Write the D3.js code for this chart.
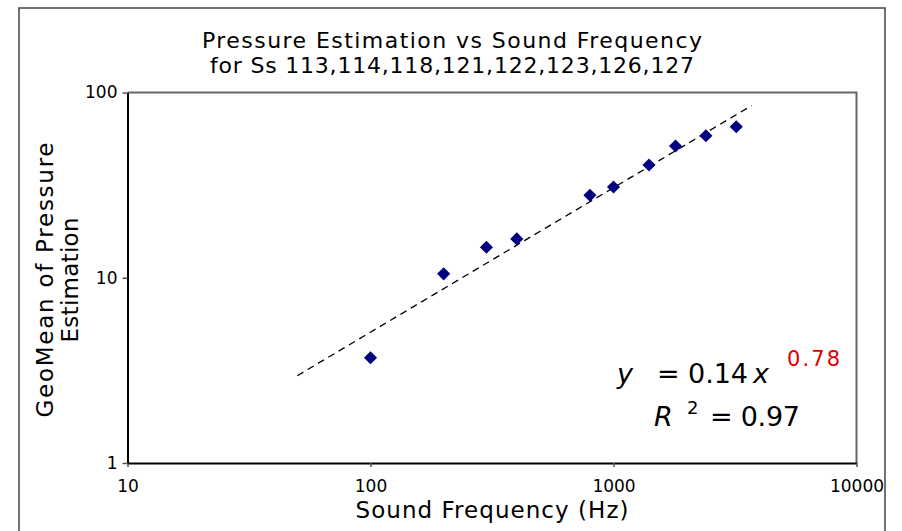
<!DOCTYPE html>
<html>
<head>
<meta charset="utf-8">
<script src="https://cdn.jsdelivr.net/npm/d3@7"></script>
<style>
  body { margin: 0; background: #fff; }
  svg { display: block; }
  text { font-family: "DejaVu Sans", Verdana, sans-serif; fill: #000; }
</style>
</head>
<body>
<svg id="chart" width="902" height="531"></svg>
<script>
// data
var frequencies = [100, 200, 300, 400, 800, 1000, 1400, 1800, 2400, 3200];
var pressures = [3.7, 10.5, 14.6, 16.2, 27.9, 30.9, 40.6, 51.4, 58.4, 65.3];
var xTicks = [10, 100, 1000, 10000];
var yTicks = [1, 10, 100];

// power trendline shown on the chart: y = 0.14 x^0.78
var trendCoef = 0.14;
var trendExp = 0.78;
var trendFrom = 50;
var trendTo = 3700;

var titleLines = ["Pressure Estimation vs Sound Frequency", "for Ss 113,114,118,121,122,123,126,127"];
var yTitleLines = ["GeoMean of Pressure", "Estimation"];
var xTitle = "Sound Frequency (Hz)";

var svg = d3.select("#chart");

// outer chart frame
svg.append("rect")
    .attr("x", 19).attr("y", 8)
    .attr("width", 866).attr("height", 540)
    .attr("fill", "#fff")
    .attr("stroke", "#444")
    .attr("stroke-width", 1.5);

var plot = { left: 127.5, right: 856.5, top: 92.5, bottom: 463 };

var x = d3.scaleLog().domain([10, 10000]).range([plot.left, plot.right]);
var y = d3.scaleLog().domain([1, 100]).range([plot.bottom, plot.top]);

// plot area border (top/right grey)
svg.append("path")
    .attr("d", "M" + plot.left + "," + plot.top + "H" + plot.right + "V" + plot.bottom)
    .attr("fill", "none")
    .attr("stroke", "#666")
    .attr("stroke-width", 2);

// axes
var xAxis = svg.append("g")
    .attr("transform", "translate(0," + plot.bottom + ")")
    .call(d3.axisBottom(x).tickValues(xTicks).tickFormat(d3.format("d"))
        .tickSize(4).tickPadding(13).tickSizeOuter(0));
var yAxis = svg.append("g")
    .attr("transform", "translate(" + plot.left + ",0)")
    .call(d3.axisLeft(y).tickValues(yTicks).tickFormat(d3.format("d"))
        .tickSize(5).tickPadding(5).tickSizeOuter(0));

[xAxis, yAxis].forEach(function (g) {
    g.select(".domain").attr("stroke", "#000").attr("stroke-width", 2);
    g.selectAll(".tick line").attr("stroke", "#555").attr("stroke-width", 1.5);
    g.selectAll(".tick text")
        .attr("fill", "#000")
        .style("font-family", "'DejaVu Sans', Verdana, sans-serif")
        .style("font-size", "17px");
});

// trendline
var trendPts = d3.range(0, 21).map(function (i) {
    var lx = Math.log10(trendFrom) + (Math.log10(trendTo) - Math.log10(trendFrom)) * i / 20;
    var fx = Math.pow(10, lx);
    return [fx, trendCoef * Math.pow(fx, trendExp)];
});
svg.append("path")
    .datum(trendPts)
    .attr("d", d3.line().x(function (d) { return x(d[0]); }).y(function (d) { return y(d[1]); }))
    .attr("fill", "none")
    .attr("stroke", "#000")
    .attr("stroke-width", 1.3)
    .attr("stroke-dasharray", "7,5");

// markers
var diamond = d3.symbol().type(d3.symbolDiamond2).size(110);
svg.selectAll(".pt")
    .data(frequencies)
    .enter().append("path")
    .attr("class", "pt")
    .attr("d", diamond)
    .attr("transform", function (d, i) { return "translate(" + x(d) + "," + y(pressures[i]) + ")"; })
    .attr("fill", "#000080");

// title
svg.selectAll(".title")
    .data(titleLines)
    .enter().append("text")
    .attr("class", "title")
    .attr("x", 452)
    .attr("y", function (d, i) { return 48 + i * 25; })
    .attr("text-anchor", "middle")
    .attr("textLength", function (d, i) { return i == 0 ? 500 : 484; })
    .attr("lengthAdjust", "spacing")
    .style("font-size", "22px")
    .text(function (d) { return d; });

// axis titles
svg.append("text")
    .attr("x", (plot.left + plot.right) / 2)
    .attr("y", 518)
    .attr("text-anchor", "middle")
    .attr("textLength", 273)
    .attr("lengthAdjust", "spacing")
    .style("font-size", "23px")
    .text(xTitle);

svg.selectAll(".ytitle")
    .data(yTitleLines)
    .enter().append("text")
    .attr("class", "ytitle")
    .attr("transform", function (d, i) { return "translate(" + (53 + i * 25) + ",280) rotate(-90)"; })
    .attr("text-anchor", "middle")
    .attr("textLength", function (d, i) { return i == 0 ? 275 : 125; })
    .attr("lengthAdjust", "spacing")
    .style("font-size", "23px")
    .text(function (d) { return d; });

// equation
var eq = svg.append("g").style("font-size", "27px");
eq.append("text").attr("x", 617).attr("y", 383).style("font-style", "italic").text("y");
eq.append("text").attr("x", 657).attr("y", 383).attr("textLength", 91).attr("lengthAdjust", "spacing").text("= 0.14");
eq.append("text").attr("x", 753).attr("y", 383).style("font-style", "italic").text("x");
eq.append("text").attr("x", 787).attr("y", 366).attr("textLength", 53).attr("lengthAdjust", "spacing")
    .style("font-size", "21px").style("fill", "#e00000").text("0.78");
eq.append("text").attr("x", 654).attr("y", 426).style("font-style", "italic").text("R");
eq.append("text").attr("x", 687).attr("y", 414).style("font-size", "18px").text("2");
eq.append("text").attr("x", 710).attr("y", 426).attr("textLength", 90).attr("lengthAdjust", "spacing").text("= 0.97");
</script>
</body>
</html>
